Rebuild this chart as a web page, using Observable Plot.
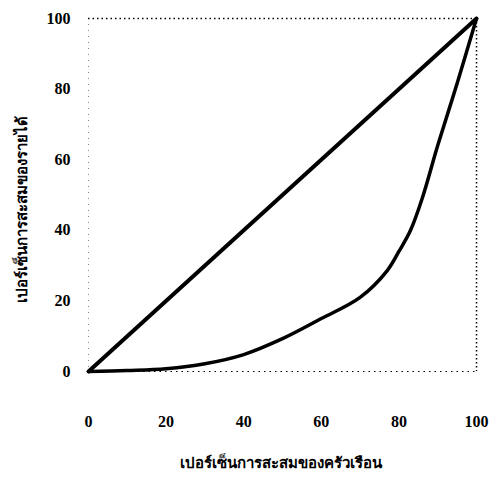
<!DOCTYPE html>
<html><head><meta charset="utf-8">
<script src="https://cdn.jsdelivr.net/npm/d3@7"></script>
<script src="https://cdn.jsdelivr.net/npm/@observablehq/plot@0.6"></script>
<style>body{margin:0;background:#fff}</style>
</head><body><div id="chart"></div>
<script>
const households = [0, 10, 20, 30, 40, 50, 60, 70, 77, 80, 83, 86, 90, 95, 100];
const lorenzIncome = [0, 0.3, 0.8, 2.2, 4.8, 9.3, 15, 21, 28.6, 34, 40, 49, 64, 81.6, 100];
const equalityX = [0, 100];
const equalityY = [0, 100];
const ticks = [0, 20, 40, 60, 80, 100];
const xLabel = "เปอร์เซ็นการสะสมของครัวเรือน";
const yLabel = "เปอร์เซ็นการสะสมของรายได้";

const lorenz = households.map((x, i) => ({x, y: lorenzIncome[i]}));
const equality = equalityX.map((x, i) => ({x, y: equalityY[i]}));

const chart = Plot.plot({
  width: 491, height: 479,
  marginLeft: 88, marginRight: 15, marginTop: 18, marginBottom: 108,
  style: {fontFamily: "'Liberation Serif', serif", fontSize: "16px", fontWeight: "bold", color: "#000", background: "#fff"},
  x: {domain: [0, 100], ticks: ticks, tickSize: 0, tickPadding: 44, label: null},
  y: {domain: [0, 100], ticks: ticks, tickSize: 0, tickPadding: 18, label: null},
  marks: [
    Plot.ruleY([100], {stroke: "#000", strokeWidth: 1.5, strokeDasharray: "1.5,3"}),
    Plot.ruleX([100], {stroke: "#000", strokeWidth: 1.5, strokeDasharray: "1.5,2.5"}),
    Plot.ruleY([0], {stroke: "#000", strokeWidth: 1.2, strokeDasharray: "1.5,4"}),
    Plot.ruleX([0], {stroke: "#000", strokeWidth: 0.8, strokeOpacity: 0.6, strokeDasharray: "1,5"}),
    Plot.line(equality, {x: "x", y: "y", stroke: "#000", strokeWidth: 4}),
    Plot.line(lorenz, {x: "x", y: "y", stroke: "#000", strokeWidth: 3.5, curve: "catmull-rom"}),
    Plot.axisX({ticks: ticks, tickSize: 0, tickPadding: 44, fontSize: 16, fontWeight: "bold"}),
    Plot.axisY({ticks: ticks, tickSize: 0, tickPadding: 18, fontSize: 16, fontWeight: "bold"}),
    Plot.text([xLabel], {frameAnchor: "bottom", dy: 96, dx: -2, fontSize: 15, fontWeight: "bold", fontFamily: "'Noto Sans', sans-serif"}),
    Plot.text([yLabel], {frameAnchor: "left", dx: -66, dy: 14, rotate: -90, textAnchor: "middle", fontSize: 15, fontWeight: "bold", fontFamily: "'Noto Sans', sans-serif"})
  ]
});
document.getElementById("chart").appendChild(chart);
</script>
</body></html>
